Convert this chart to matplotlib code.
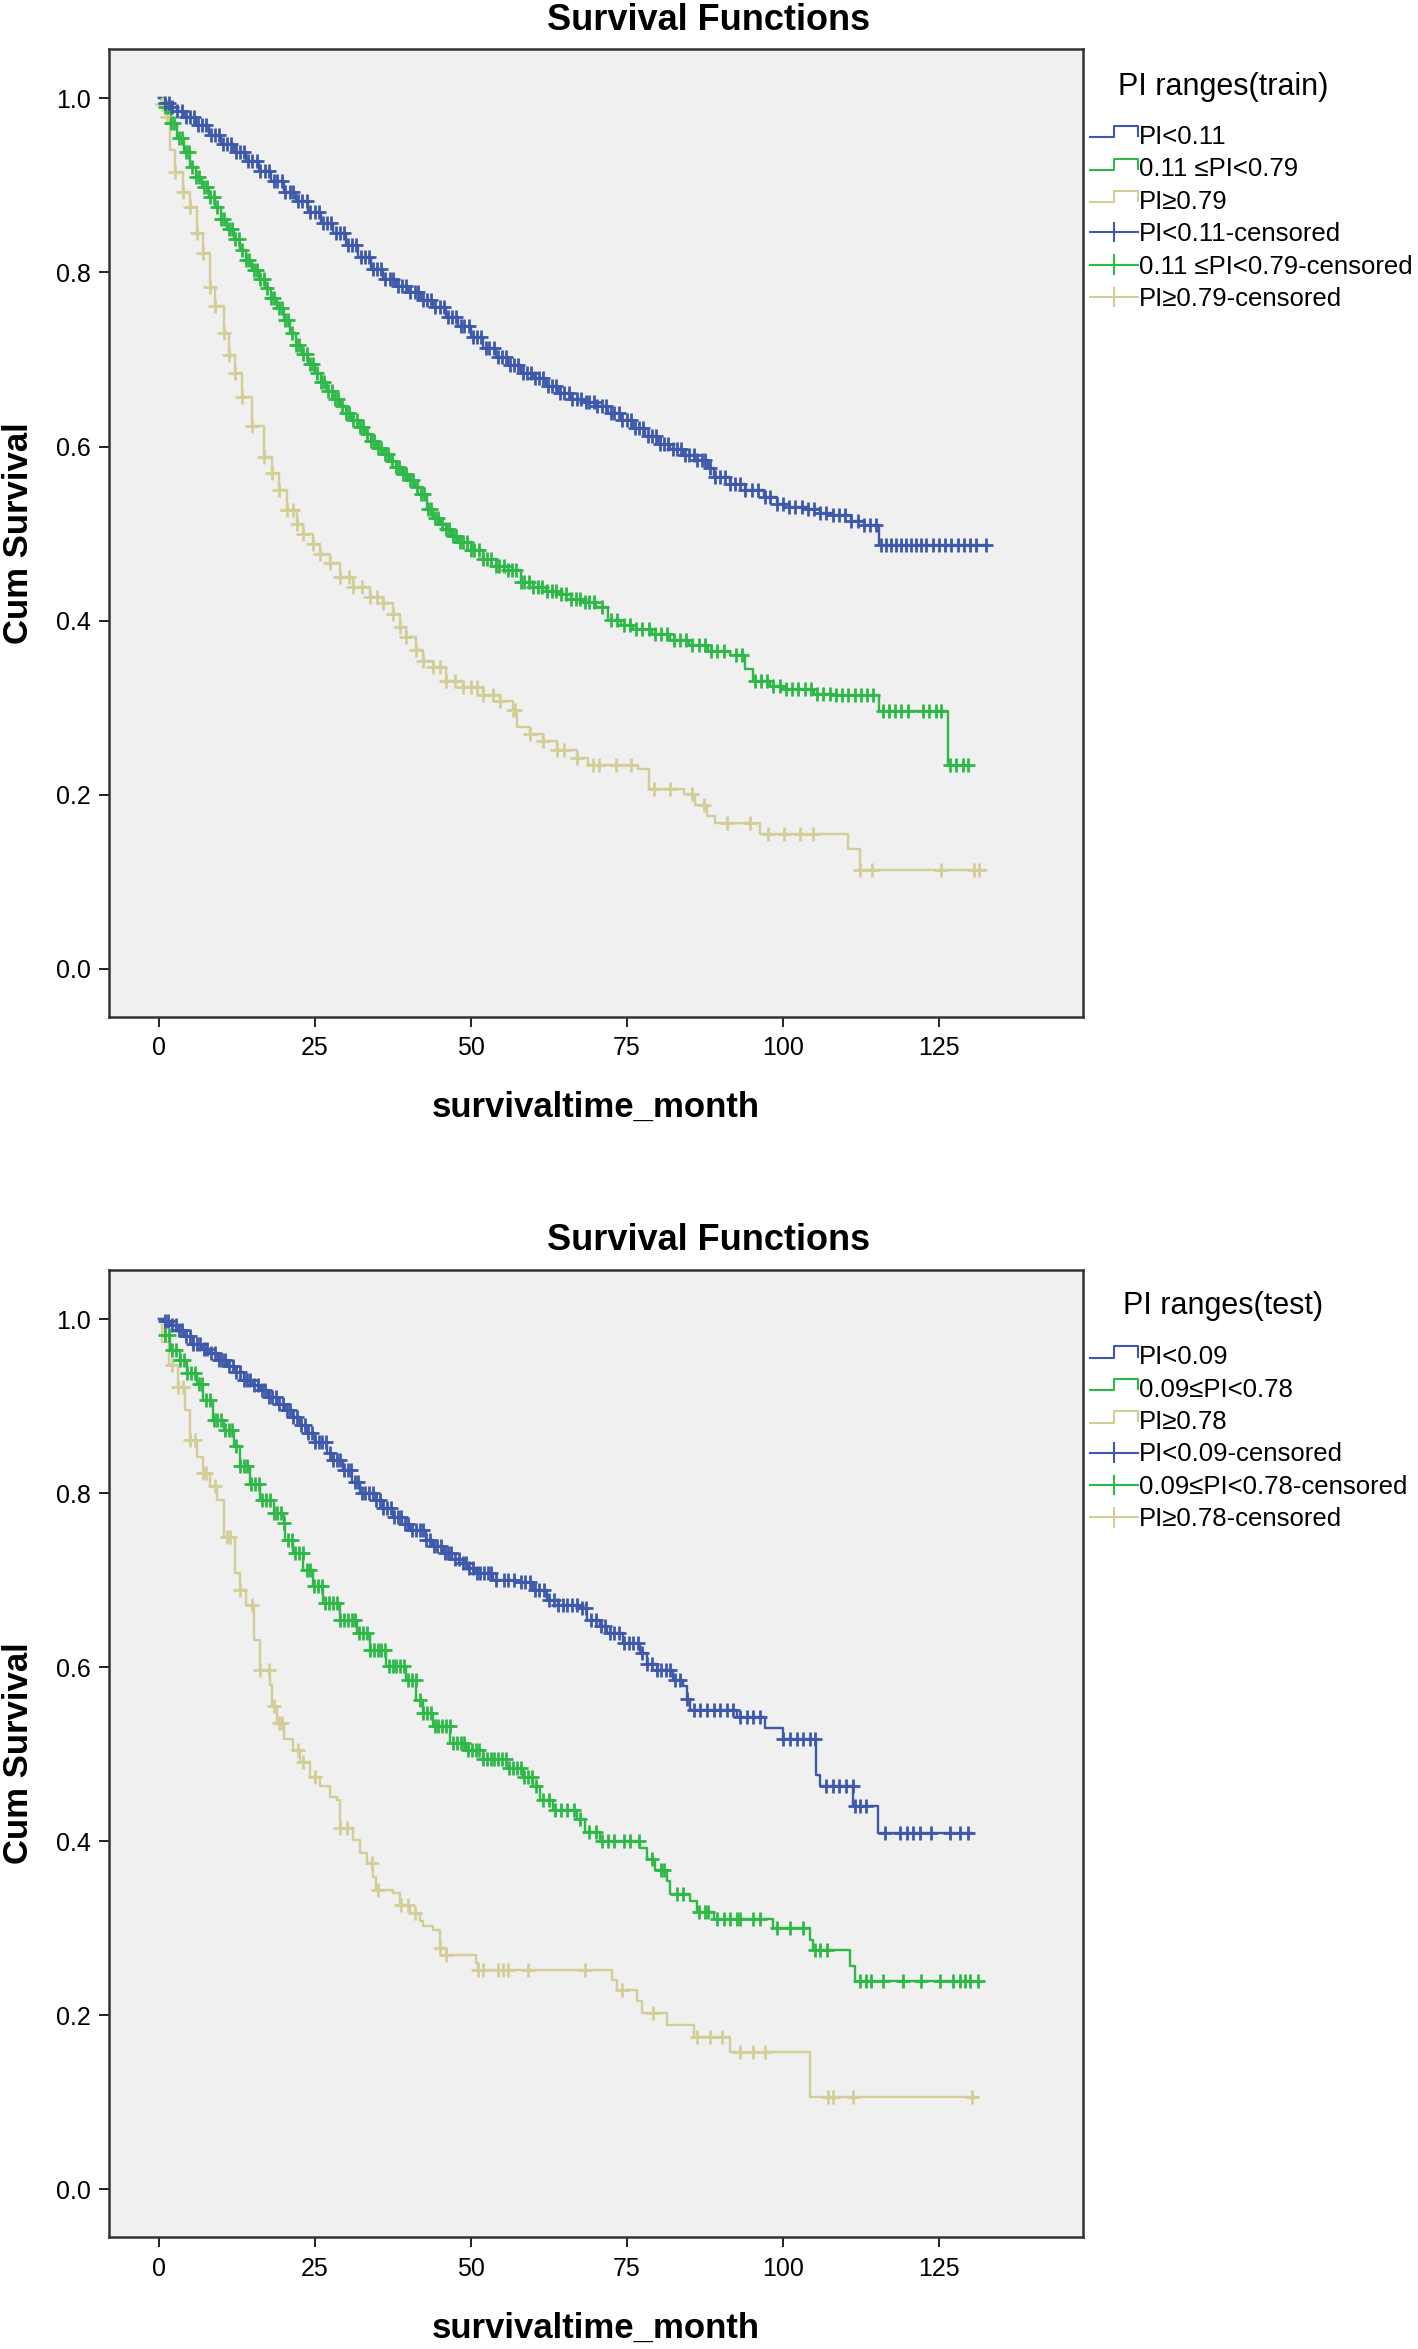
import numpy as np
import matplotlib
matplotlib.use("Agg")
import matplotlib.pyplot as plt
from matplotlib.lines import Line2D
from matplotlib.legend_handler import HandlerBase

plt.rcParams['font.family'] = ['Liberation Sans', 'DejaVu Sans']

# ---------------- data: TRAIN ----------------
train_labels = ["PI<0.11", "0.11 \u2264PI<0.79", "PI\u22650.79"]

blue_tr_t = [1, 2, 3, 4, 6, 8, 10, 12, 14, 16, 18, 20, 22, 24, 26, 28, 30, 32, 34, 36, 38, 40, 42, 44,
             46, 48, 50, 52, 54, 56, 58, 60, 62, 64, 66, 68, 70, 72, 74, 76, 78, 80, 82, 84, 86, 88,
             89, 91.5, 94, 97, 99, 101, 104, 106, 108, 111, 113, 115.4]
blue_tr_s = [0.995, 0.990, 0.985, 0.979, 0.969, 0.958, 0.948, 0.938, 0.928, 0.917, 0.905, 0.893, 0.882,
             0.870, 0.857, 0.845, 0.832, 0.818, 0.804, 0.793, 0.785, 0.777, 0.768, 0.760, 0.749, 0.738,
             0.726, 0.713, 0.703, 0.694, 0.685, 0.679, 0.669, 0.662, 0.655, 0.651, 0.646, 0.639, 0.630,
             0.621, 0.612, 0.603, 0.597, 0.590, 0.584, 0.575, 0.565, 0.557, 0.550, 0.542, 0.534, 0.531,
             0.528, 0.524, 0.521, 0.514, 0.510, 0.487]
blue_tr_end = 132.5
blue_tr_c = [1, 1.6, 2.2, 3, 3.7, 4.3, 5, 5.7, 6.3, 7, 7.6, 8.4, 9, 9.7, 10.3, 11, 11.6, 12.4, 13, 13.7,
             14.3, 15, 15.7, 16.3, 17, 17.6, 18.4, 19, 19.7, 20.3, 21, 21.6, 22.4, 23, 23.7, 24.3, 25,
             25.7, 26.3, 27, 27.6, 28.4, 29, 29.7, 30.3, 31, 31.6, 32.4, 33, 33.7, 34.3, 35, 35.7, 36.3,
             37, 37.6, 38.4, 39, 39.7, 40.3, 41, 41.6, 42.4, 43, 43.7, 44.3, 45, 45.7, 46.3, 47, 47.6,
             48.4, 49, 49.7, 50.3, 51, 51.6, 52.4, 53, 53.7, 54.3, 55, 55.7, 56.3, 57, 57.6, 58.4, 59,
             59.7, 60.3, 61, 61.6, 62.4, 63, 63.7, 64.3, 65, 65.7, 66.3, 67, 67.6, 68.4, 69, 69.7, 70.3,
             71, 71.6, 72.4, 73, 73.7, 74.3, 75, 75.7, 76.3, 77, 77.6, 78.4, 79, 79.7, 80.3, 81, 81.6,
             82.4, 83, 83.7, 84.3, 85, 85.7, 86.3, 87, 87.6, 88.4, 89.2, 90, 90.8, 91.6, 92.4, 93.2, 94,
             95, 96, 97.2, 98, 99, 100, 101, 102, 103, 104, 105, 106, 107, 108, 109, 110, 111, 112, 113,
             114, 115, 115.8, 116.6, 117.4, 118.2, 119, 119.8, 120.6, 121.4, 122.2, 123, 124, 125, 126,
             127, 128, 129, 130, 131, 132.5]

green_tr_t = [0.5, 1, 2, 3, 4, 5, 6, 7, 8, 9, 10, 11, 12, 13, 14, 15, 16, 17, 18, 19, 20, 21, 22, 23, 24,
              25, 26, 27, 28, 29, 30, 31, 32, 33, 34, 35, 36, 37, 38, 39, 40, 41, 42, 43, 44, 45, 46, 47,
              48, 50, 52, 54, 56, 58, 60, 62, 64, 66, 68, 70, 72, 74, 76, 79, 82, 85, 88, 91.5, 94, 95.2,
              98, 100, 105, 108, 110, 115.4, 126.4]
green_tr_s = [0.995, 0.99, 0.972, 0.955, 0.938, 0.921, 0.910, 0.898, 0.887, 0.875, 0.862, 0.850, 0.838,
              0.826, 0.814, 0.803, 0.792, 0.782, 0.771, 0.759, 0.745, 0.730, 0.717, 0.706, 0.695, 0.684,
              0.674, 0.664, 0.655, 0.647, 0.639, 0.630, 0.622, 0.614, 0.606, 0.598, 0.591, 0.583, 0.576,
              0.568, 0.561, 0.553, 0.545, 0.528, 0.518, 0.511, 0.505, 0.497, 0.490, 0.481, 0.471, 0.463,
              0.458, 0.444, 0.438, 0.434, 0.430, 0.425, 0.421, 0.416, 0.401, 0.395, 0.390, 0.384, 0.378,
              0.372, 0.365, 0.360, 0.344, 0.331, 0.325, 0.321, 0.316, 0.315, 0.314, 0.296, 0.234]
green_tr_end = 129.6
green_tr_c = [1, 1.5, 2, 2.5, 3.2, 3.7, 4.3, 4.8, 5.4, 6, 6.5, 7.2, 7.7, 8.3, 8.8, 9.4, 10, 10.5, 11.2,
              11.7, 12.3, 12.8, 13.4, 14, 14.5, 15.2, 15.7, 16.3, 16.8, 17.4, 18, 18.5, 19.2, 19.7, 20.3,
              20.8, 21.4, 22, 22.5, 23.2, 23.7, 24.3, 24.8, 25.4, 26, 26.5, 27.2, 27.7, 28.3, 28.8, 29.4,
              30, 30.5, 31.2, 31.7, 32.3, 32.8, 33.4, 34, 34.5, 35.2, 35.7, 36.3, 36.8, 37.4, 38, 38.5,
              39.2, 39.7, 40.3, 40.8, 41.4, 42, 42.5, 43.2, 43.7, 44.3, 44.8, 45.4, 46, 46.5, 47.2, 47.7,
              48.3, 48.8, 49.4, 50, 50.6, 51.3, 52, 52.6, 53.3, 54, 54.6, 55.3, 56, 56.6, 57.3, 58, 58.6,
              59.3, 60, 60.7, 61.4, 62.2, 63, 63.7, 64.5, 65.3, 66, 66.8, 67.5, 68.3, 69, 69.7, 71, 72.5,
              73.5, 74.5, 75.5, 76.5, 77.5, 78.5, 79.5, 80.5, 81.5, 82.5, 83.5, 84.5, 85.5, 86.5, 87.5,
              88.5, 89.5, 90.5, 92.5, 93.5, 95.5, 96.5, 97.5, 98.5, 99.5, 100.5, 101.5, 102.5, 103.5,
              104.5, 105.5, 106.5, 107.5, 108.5, 109.5, 110.5, 111.5, 112.5, 113.5, 114.5, 116, 117, 118,
              119, 120, 122.5, 123.5, 124.5, 125.3, 126.8, 127.8, 128.8, 129.6]

yellow_tr_t = [0.5, 1.3, 1.8, 2.6, 3.9, 5, 6.1, 7.1, 8.2, 9, 10.4, 11.2, 12.2, 13.3, 14.9, 16.8, 18.1,
               19.2, 20.5, 22.1, 23.2, 24.8, 25.8, 27.4, 29, 31.2, 33.9, 36, 37.6, 38.7, 39.7, 41.3, 42.4,
               44, 46.1, 48.8, 52, 54.7, 56.8, 57.4, 59.5, 61.6, 63.8, 67, 68.8, 76.8, 78.6, 84.1, 86,
               87.8, 89.1, 96.4, 110.5, 112.4]
yellow_tr_s = [0.994, 0.979, 0.941, 0.916, 0.893, 0.875, 0.845, 0.822, 0.783, 0.762, 0.730, 0.705, 0.684,
               0.657, 0.623, 0.588, 0.569, 0.550, 0.527, 0.511, 0.500, 0.488, 0.477, 0.466, 0.450, 0.439,
               0.427, 0.420, 0.408, 0.393, 0.381, 0.366, 0.354, 0.347, 0.331, 0.324, 0.314, 0.308, 0.297,
               0.278, 0.270, 0.262, 0.251, 0.242, 0.234, 0.229, 0.206, 0.201, 0.188, 0.175, 0.167, 0.155,
               0.138, 0.113]
yellow_tr_end = 132.5
yellow_tr_c = [0.5, 1.3, 2.6, 3.9, 5, 6.1, 7.1, 8.2, 9, 10.4, 11.2, 12.2, 13.3, 14.9, 16.8, 18.1, 19.2,
               20.5, 21.5, 22.1, 23.2, 24.8, 25.8, 27.4, 29, 30.5, 31.2, 32.5, 33.9, 35, 36, 37.6, 38.7,
               39.7, 41.3, 42.4, 44, 45, 46.1, 47.5, 48.8, 50, 51, 52, 53.5, 54.7, 56.8, 57.1, 59.5, 61.6,
               63.8, 64.9, 67, 69.6, 70.5, 73.3, 75.7, 79.4, 81.9, 85.5, 87.3, 91.0, 94.7, 97.7, 100.2,
               102.7, 104.8, 112.4, 114.3, 125.4, 130.6, 131.5]

# ---------------- data: TEST ----------------
test_labels = ["PI<0.09", "0.09\u2264PI<0.78", "PI\u22650.78"]

blue_te_t = [1, 2, 3, 4, 5.5, 7, 8.2, 9.5, 10.9, 12, 13.6, 15, 16.2, 17.5, 18.9, 20.2, 21.6, 22.7, 23.7,
             25, 26.9, 28, 29.6, 31, 32.3, 34.9, 36, 37.6, 39, 40.3, 42.9, 44, 45.6, 47, 48.3, 49.5, 50.9,
             53.6, 57.4, 60, 62.2, 64, 67.5, 68.6, 70.7, 71.8, 74.4, 77.1, 78.2, 79.8, 82.4, 84, 84.6,
             85.1, 92.6, 97.1, 100.1, 105.4, 105.9, 111.3, 115.3]
blue_te_s = [0.998, 0.993, 0.988, 0.981, 0.972, 0.966, 0.961, 0.953, 0.946, 0.939, 0.930, 0.924, 0.919,
             0.911, 0.903, 0.896, 0.888, 0.878, 0.869, 0.859, 0.846, 0.838, 0.827, 0.813, 0.800, 0.792,
             0.783, 0.773, 0.765, 0.758, 0.746, 0.739, 0.731, 0.725, 0.720, 0.714, 0.708, 0.700, 0.698,
             0.689, 0.677, 0.672, 0.668, 0.654, 0.647, 0.639, 0.628, 0.616, 0.604, 0.597, 0.585, 0.578,
             0.564, 0.551, 0.543, 0.530, 0.518, 0.476, 0.463, 0.440, 0.409]
blue_te_end = 130.3
blue_te_c = [1, 1.5, 2.1, 2.7, 3.2, 3.8, 4.4, 5, 5.5, 6.1, 6.7, 7.3, 7.8, 8.4, 9, 9.6, 10.1, 10.7, 11.3,
             11.9, 12.4, 13, 13.6, 14.2, 14.7, 15.3, 15.9, 16.5, 17, 17.6, 18.2, 18.8, 19.3, 19.9, 20.5,
             21.1, 21.6, 22.2, 22.8, 23.4, 23.9, 24.5, 25.1, 25.7, 26.2, 26.8, 27.4, 28, 28.5, 29.1, 29.7,
             30.3, 30.8, 31.4, 32, 32.6, 33.1, 33.7, 34.3, 34.9, 35.4, 36, 36.6, 37.2, 37.7, 38.3, 38.9,
             39.5, 40, 40.6, 41.2, 41.8, 42.3, 42.9, 43.5, 44.1, 44.6, 45.2, 45.8, 46.4, 46.9, 47.5, 48.1,
             48.7, 49.2, 49.8, 50.4, 51, 51.5, 52.1, 52.7, 53.3, 54, 55.3, 56, 57, 58, 58.7, 59.5, 60.3,
             61, 61.8, 62.5, 63.3, 64, 64.8, 65.5, 66.3, 67, 67.8, 68.5, 69.3, 70, 70.8, 71.5, 72.3, 73,
             73.8, 74.5, 75.3, 76, 76.8, 77.5, 78.3, 79, 79.8, 80.5, 81.3, 82, 82.8, 83.5, 84.6, 85.7,
             86.7, 87.8, 88.9, 89.9, 91, 92, 93.1, 94.2, 95.2, 96.3, 100.1, 101.1, 102.2, 103.3, 104.3,
             105.1, 106.9, 108, 109, 110.1, 111.2, 111.5, 112.3, 113.4, 116.4, 118.8, 119.9, 120.9, 122,
             123.8, 126.8, 128.4, 129.7]

green_te_t = [1, 1.8, 3.4, 4.5, 6.1, 7.1, 8.7, 10.4, 12, 13, 14.6, 16.2, 18.4, 20, 20.2, 21.6, 23.2, 24.8,
              26.4, 29, 31.7, 33.9, 36.5, 39.7, 41.3, 42.4, 44, 46.7, 49.3, 52, 55.8, 58.4, 60, 61.1, 63.2,
              67, 68.3, 70.7, 77.1, 78.2, 79.5, 81.4, 82, 85.1, 86.2, 88.9, 98.5, 104.4, 104.9, 110.8, 111.6]
green_te_s = [0.982, 0.965, 0.953, 0.938, 0.926, 0.907, 0.884, 0.873, 0.854, 0.831, 0.811, 0.792, 0.777,
              0.766, 0.746, 0.731, 0.712, 0.693, 0.674, 0.654, 0.639, 0.620, 0.601, 0.585, 0.562, 0.547,
              0.532, 0.513, 0.505, 0.495, 0.484, 0.474, 0.463, 0.447, 0.436, 0.426, 0.411, 0.400, 0.392,
              0.379, 0.367, 0.354, 0.339, 0.331, 0.319, 0.311, 0.300, 0.287, 0.275, 0.256, 0.239]
green_te_end = 131.3
green_te_c = [1, 1.6, 2.2, 2.8, 3.4, 4, 4.6, 5.2, 5.8, 6.4, 7, 7.6, 8.2, 8.8, 9.4, 10, 10.6, 11.2, 11.8,
              12.4, 13, 13.6, 14.2, 14.8, 15.4, 16, 16.6, 17.2, 17.8, 18.4, 19, 19.6, 20.1, 20.7, 21.3,
              21.9, 22.5, 23.1, 23.7, 24.3, 24.9, 25.5, 26.1, 26.7, 27.3, 27.9, 28.5, 29.1, 29.7, 30.3,
              30.9, 31.5, 32.1, 32.7, 33.3, 33.9, 34.5, 35.1, 35.7, 36.3, 36.9, 37.5, 38.1, 38.7, 39.3,
              40, 40.6, 41.2, 41.8, 42.4, 43, 43.6, 44.2, 44.8, 45.4, 46, 46.6, 47.2, 47.8, 48.4, 49,
              49.6, 50.2, 50.8, 51.4, 52, 52.6, 53.2, 53.8, 54.4, 55, 55.6, 56.2, 56.8, 57.4, 58, 58.6,
              59.2, 59.8, 60.5, 61.5, 62.5, 63.5, 64.5, 65.5, 66.5, 67.5, 69, 70, 71, 72, 73, 74.5, 75.5,
              77, 79, 80.5, 81, 83, 84, 86.5, 87.5, 88, 89.4, 90.5, 91.5, 92.6, 93.1, 95.2, 96.3, 99,
              101.2, 103.3, 105.2, 106, 107.1, 112.3, 113.4, 114.2, 116.1, 119.3, 122.2, 125.2, 127.3,
              128.4, 129.2, 130, 131.3]

yellow_te_t = [0.5, 1.6, 3.1, 4.2, 5, 6.1, 7.1, 8.2, 9.3, 10.4, 12.2, 13, 14, 15.2, 16.2, 17.8, 18.1, 18.9,
               20, 21.6, 22.6, 24.2, 25.8, 27.4, 28.5, 29, 31.2, 32.3, 33.3, 34.4, 34.9, 37.6, 38.7, 40.3,
               41.9, 42.4, 44, 45.1, 46.1, 50.9, 51.2, 72.6, 73.4, 76.6, 77.4, 81.4, 85.7, 91.5, 104.3]
yellow_te_s = [0.974, 0.947, 0.922, 0.896, 0.861, 0.842, 0.823, 0.808, 0.792, 0.750, 0.708, 0.689, 0.671,
               0.631, 0.597, 0.580, 0.555, 0.536, 0.518, 0.505, 0.491, 0.474, 0.463, 0.451, 0.447, 0.415,
               0.401, 0.386, 0.375, 0.359, 0.344, 0.340, 0.327, 0.317, 0.308, 0.302, 0.298, 0.277, 0.269,
               0.260, 0.252, 0.241, 0.229, 0.216, 0.202, 0.189, 0.175, 0.158, 0.106]
yellow_te_end = 131.3
yellow_te_c = [2.1, 3.1, 3.9, 5, 5.8, 7.1, 7.6, 9, 10.9, 11.4, 13, 14.9, 16.2, 17.6, 18.4, 19.2, 19.7, 22.4,
               23.2, 25, 29, 30.1, 34.1, 35.2, 38.9, 40, 41.1, 45.1, 46.1, 51.2, 52, 54.4, 55.2, 56, 59.2,
               68.3, 74.2, 79.2, 86.2, 88.3, 90.2, 93.1, 95.3, 97.1, 107.3, 108.1, 111.3, 130.3]

x_ticks = [0, 25, 50, 75, 100, 125]
y_ticks = [0.0, 0.2, 0.4, 0.6, 0.8, 1.0]

# ---------------- style ----------------
C_BLUE = '#3E58AC'
C_GREEN = '#2EB848'
C_KHAKI = '#D3CE97'
LW = 1.7
MS = 10
MEW = 2.0
LEG_FS = 18.5


class StepHandler(HandlerBase):
    def create_artists(self, legend, orig_handle, xdescent, ydescent, width, height, fontsize, trans):
        x0 = -xdescent
        yc = -ydescent + height / 2 + 0.12 * fontsize
        dh = 0.22 * fontsize
        xs = [x0, x0 + 0.5 * width, x0 + 0.5 * width, x0 + width, x0 + width]
        ys = [yc - dh, yc - dh, yc + dh, yc + dh, yc - 0.8 * dh]
        return [Line2D(xs, ys, color=orig_handle.get_color(), lw=orig_handle.get_linewidth(),
                       transform=trans)]


class CensorHandler(HandlerBase):
    def create_artists(self, legend, orig_handle, xdescent, ydescent, width, height, fontsize, trans):
        x0 = -xdescent
        yc = -ydescent + height / 2
        dv = 0.36 * fontsize
        a = Line2D([x0, x0 + width], [yc, yc], color=orig_handle.get_color(),
                   lw=orig_handle.get_linewidth(), transform=trans)
        b = Line2D([x0 + 0.5 * width] * 2, [yc - dv, yc + dv], color=orig_handle.get_color(),
                   lw=orig_handle.get_linewidth(), transform=trans)
        return [a, b]


def surv_at(times, ev_t, ev_s):
    idx = np.searchsorted(np.asarray(ev_t), np.asarray(times), side='right')
    s_all = np.concatenate([[1.0], np.asarray(ev_s)])
    return s_all[idx]


def draw_panel(ax, series, labels, legend_title, leg_y, title_y, xlabel_y, legtitle_y):
    ax.set_facecolor('#F0F0F0')
    for (ev_t, ev_s, end, cens, col) in series:
        tt = np.r_[0.0, ev_t, end]
        ss = np.r_[1.0, ev_s, ev_s[-1]]
        ax.step(tt, ss, where='post', color=col, lw=LW, zorder=2)
        ax.plot(cens, surv_at(cens, ev_t, ev_s), ls='none', marker='+', ms=MS, mew=MEW,
                color=col, zorder=3)
    ax.set_xlim(-7.96, 148.1)
    ax.set_ylim(-0.055, 1.057)
    ax.set_xticks(x_ticks)
    ax.set_xticklabels([str(v) for v in x_ticks])
    ax.set_yticks(y_ticks)
    ax.set_yticklabels(['%.1f' % v for v in y_ticks])
    ax.tick_params(axis='both', direction='out', length=7.2, width=1.4, labelsize=18,
                   colors='#222222', labelcolor='black')
    ax.tick_params(axis='x', pad=7)
    ax.tick_params(axis='y', pad=5.8)
    for sp in ax.spines.values():
        sp.set_linewidth(1.8)
        sp.set_color('#333333')
    ax.set_xlabel('survivaltime_month', fontsize=25, fontweight='bold', va='center')
    ax.xaxis.set_label_coords(0.5, xlabel_y)
    ax.set_ylabel('Cum Survival', fontsize=25, fontweight='bold', va='center', ha='center')
    ax.yaxis.set_label_coords(-0.0934, 0.5)
    ax.text(0.6151, title_y, 'Survival Functions', transform=ax.transAxes, ha='center', va='center',
            fontsize=26, fontweight='bold')
    ax.text(1.1437, legtitle_y, legend_title, transform=ax.transAxes, ha='center', va='center',
            fontsize=22)

    # legend: blue, green, khaki order
    cols = [C_BLUE, C_GREEN, C_KHAKI]
    handles, hmap = [], {}
    for c in cols:
        h = Line2D([], [], color=c, lw=1.5)
        handles.append(h)
        hmap[h] = StepHandler()
    for c in cols:
        h = Line2D([], [], color=c, lw=1.5)
        handles.append(h)
        hmap[h] = CensorHandler()
    leg_labels = list(labels) + [l + '-censored' for l in labels]
    ax.legend(handles, leg_labels, handler_map=hmap, loc='upper left',
              bbox_to_anchor=(1.0072, leg_y), bbox_transform=ax.transAxes,
              frameon=False, fontsize=LEG_FS, handlelength=1.85, handletextpad=0.05,
              labelspacing=0.33, borderpad=0, borderaxespad=0)


fig = plt.figure(figsize=(14.18, 23.49), dpi=100)
ax1 = fig.add_axes([0.07687, 0.56726, 0.68688, 0.41196])
ax2 = fig.add_axes([0.07687, 0.04768, 0.68688, 0.41179])

train_series = [
    (yellow_tr_t, yellow_tr_s, yellow_tr_end, yellow_tr_c, C_KHAKI),
    (green_tr_t, green_tr_s, green_tr_end, green_tr_c, C_GREEN),
    (blue_tr_t, blue_tr_s, blue_tr_end, blue_tr_c, C_BLUE),
]
test_series = [
    (yellow_te_t, yellow_te_s, yellow_te_end, yellow_te_c, C_KHAKI),
    (green_te_t, green_te_s, green_te_end, green_te_c, C_GREEN),
    (blue_te_t, blue_te_s, blue_te_end, blue_te_c, C_BLUE),
]

draw_panel(ax1, train_series, train_labels, 'PI ranges(train)', 0.9215, 1.0295, -0.0943, 0.9605)
draw_panel(ax2, test_series, test_labels, 'PI ranges(test)', 0.9221, 1.0307, -0.0946, 0.9621)

fig.savefig('out.png', dpi=100, facecolor='white')
